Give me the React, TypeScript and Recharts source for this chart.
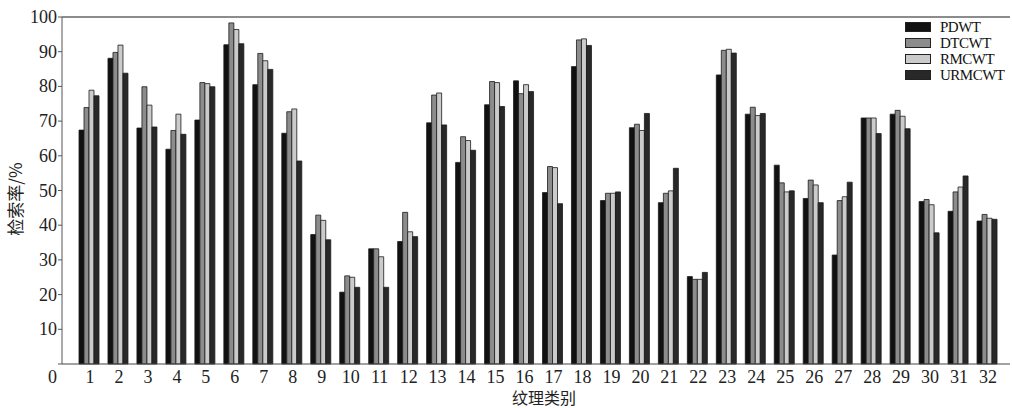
import { BarChart, Bar, XAxis, YAxis, ReferenceLine } from "recharts";

const categories = Array.from({ length: 32 }, (_, i) => String(i + 1));

const pdwt = [67.4, 88.1, 68.0, 61.9, 70.3, 92.0, 80.5, 66.5, 37.3, 20.7, 33.2, 35.3, 69.5, 58.1, 74.7, 81.6, 49.4, 85.7, 47.1, 68.1, 46.5, 25.2, 83.3, 72.0, 57.3, 47.7, 31.4, 70.9, 72.0, 46.8, 44.0, 41.2];
const dtcwt = [73.9, 89.8, 79.9, 67.3, 81.1, 98.3, 89.5, 72.7, 42.9, 25.4, 33.2, 43.7, 77.5, 65.5, 81.4, 77.9, 56.9, 93.4, 49.2, 69.1, 49.2, 24.4, 90.4, 74.0, 52.2, 53.0, 47.1, 70.9, 73.1, 47.4, 49.6, 43.1];
const rmcwt = [78.9, 91.9, 74.6, 72.0, 80.8, 96.4, 87.4, 73.5, 41.4, 25.0, 30.9, 38.1, 78.1, 64.4, 81.1, 80.5, 56.6, 93.7, 49.2, 67.3, 49.9, 24.4, 90.7, 71.6, 49.6, 51.6, 48.2, 70.9, 71.4, 45.9, 51.0, 42.0];
const urmcwt = [77.3, 83.8, 68.3, 66.2, 79.9, 92.3, 84.9, 58.5, 35.8, 22.1, 22.1, 36.7, 68.9, 61.6, 74.2, 78.5, 46.2, 91.8, 49.6, 72.2, 56.4, 26.4, 89.6, 72.2, 49.9, 46.5, 52.4, 66.4, 67.8, 37.8, 54.2, 41.7];

const yTicks = [0, 10, 20, 30, 40, 50, 60, 70, 80, 90, 100];

const series = [
  { key: "PDWT", color: "#111111" },
  { key: "DTCWT", color: "#8c8c8c" },
  { key: "RMCWT", color: "#cbcbcb" },
  { key: "URMCWT", color: "#282828" },
];

const data = categories.map((name, i) => ({
  name,
  PDWT: pdwt[i],
  DTCWT: dtcwt[i],
  RMCWT: rmcwt[i],
  URMCWT: urmcwt[i],
}));

const SERIF = "'Liberation Serif', 'Times New Roman', serif";
const CJK = "'Noto Sans CJK SC', sans-serif";

// "0" sits below the axis line in the original
const YTick = (props: any) => {
  const { x, y, payload } = props;
  return (
    <text
      x={x}
      y={payload.value === 0 ? y + 13 : y}
      textAnchor="end"
      dominantBaseline="central"
      fontSize={18}
      fontFamily={SERIF}
      fill="#222"
    >
      {payload.value}
    </text>
  );
};

const YLabel = () => (
  <text
    x={14.5}
    y={199}
    transform="rotate(-90, 14.5, 199)"
    textAnchor="middle"
    dominantBaseline="central"
    fontSize={17}
    fontFamily={CJK}
    fill="#222"
  >
    检索率/%
  </text>
);

const XLabel = () => (
  <text
    x={544}
    y={397}
    textAnchor="middle"
    dominantBaseline="central"
    fontSize={16}
    fontFamily={CJK}
    fill="#222"
  >
    纹理类别
  </text>
);

export default function App() {
  return (
    <div
      style={{
        position: "absolute",
        left: 0,
        top: 0,
        width: 1012,
        height: 408,
        overflow: "hidden",
        background: "#fff",
      }}
    >
      <BarChart
        width={1012}
        height={408}
        data={data}
        margin={{ top: 17, right: 2, left: 0, bottom: 0 }}
        barCategoryGap={3.5}
        barGap={0}
      >
        <XAxis
          dataKey="name"
          height={44}
          padding={{ left: 13.5, right: 7.5 }}
          tickLine={false}
          tickSize={0}
          tickMargin={6}
          axisLine={{ stroke: "#444" }}
          tick={{ fontSize: 18, fontFamily: SERIF, fill: "#222" }}
          interval={0}
          label={{ content: XLabel }}
        />
        <YAxis
          width={62}
          domain={[0, 100]}
          ticks={yTicks}
          tickSize={4}
          tickMargin={1}
          axisLine={{ stroke: "#555" }}
          tickLine={{ stroke: "#555" }}
          tick={<YTick />}
          label={{ content: YLabel }}
        />
        <ReferenceLine y={100} stroke="#666" strokeWidth={1.5} />
        {series.map((s) => (
          <Bar
            key={s.key}
            dataKey={s.key}
            fill={s.color}
            stroke="#1a1a1a"
            strokeWidth={0.8}
            isAnimationActive={false}
          />
        ))}
      </BarChart>
      <div style={{ position: "absolute", left: 905, top: 19, fontFamily: SERIF, fontSize: 15, color: "#111" }}>
        {series.map((s) => (
          <div key={s.key} style={{ display: "flex", alignItems: "center", height: 16, lineHeight: "16px" }}>
            <div style={{ width: 24, height: 8, background: s.color, border: "1px solid #222", marginRight: 9, flexShrink: 0 }} />
            <span style={{ letterSpacing: -0.5, whiteSpace: "nowrap" }}>{s.key}</span>
          </div>
        ))}
      </div>
    </div>
  );
}
